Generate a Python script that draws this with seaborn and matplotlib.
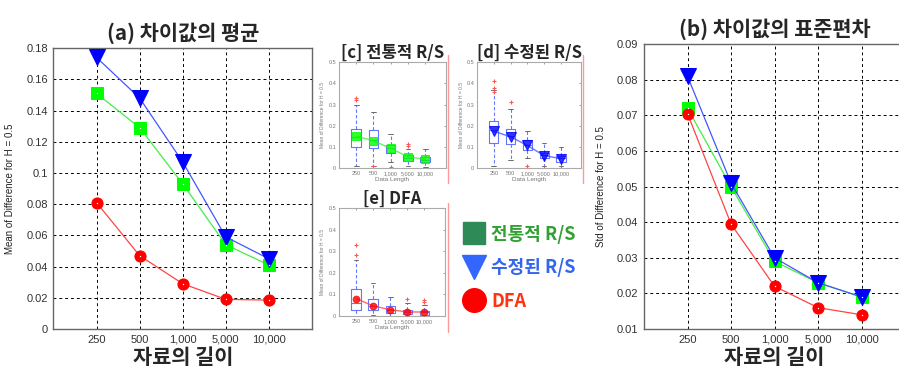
import numpy as np
import pandas as pd
import matplotlib
matplotlib.use('Agg')
import matplotlib.pyplot as plt
import seaborn as sns
from matplotlib.lines import Line2D

LENGTHS = ['250', '500', '1,000', '5,000', '10,000']
METHODS = ['전통적 R/S', '수정된 R/S', 'DFA']

# (a) mean of difference
MEAN_RS = [0.151, 0.129, 0.093, 0.054, 0.041]
MEAN_MRS = [0.174, 0.148, 0.107, 0.059, 0.045]
MEAN_DFA = [0.081, 0.047, 0.029, 0.019, 0.0185]

# (b) std of difference
STD_RS = [0.072, 0.050, 0.029, 0.023, 0.019]
STD_MRS = [0.081, 0.051, 0.030, 0.023, 0.019]
STD_DFA = [0.0705, 0.0395, 0.022, 0.016, 0.014]

# inset boxplot stats: q1, median, q3, whisker low, whisker high
BOX_RS_Q1 = [0.100, 0.094, 0.070, 0.036, 0.027]
BOX_RS_MED = [0.148, 0.133, 0.094, 0.050, 0.040]
BOX_RS_Q3 = [0.183, 0.180, 0.110, 0.062, 0.052]
BOX_RS_WLO = [0.008, 0.012, 0.027, 0.008, 0.005]
BOX_RS_WHI = [0.300, 0.265, 0.160, 0.090, 0.090]
BOX_RS_FLIERS = [[0.32, 0.33], [0.01], [0.005], [0.115, 0.105], []]

BOX_MRS_Q1 = [0.117, 0.113, 0.086, 0.047, 0.031]
BOX_MRS_MED = [0.180, 0.152, 0.110, 0.060, 0.047]
BOX_MRS_Q3 = [0.223, 0.183, 0.133, 0.073, 0.058]
BOX_MRS_WLO = [0.008, 0.040, 0.050, 0.010, 0.008]
BOX_MRS_WHI = [0.370, 0.280, 0.175, 0.117, 0.098]
BOX_MRS_FLIERS = [[0.41, 0.38, 0.36], [0.31], [0.012], [0.003], [0.003]]

BOX_DFA_Q1 = [0.028, 0.028, 0.015, 0.008, 0.006]
BOX_DFA_MED = [0.060, 0.045, 0.028, 0.018, 0.017]
BOX_DFA_Q3 = [0.124, 0.077, 0.046, 0.028, 0.025]
BOX_DFA_WLO = [0.0, 0.005, 0.0, 0.0, 0.0]
BOX_DFA_WHI = [0.260, 0.155, 0.090, 0.060, 0.050]
BOX_DFA_FLIERS = [[0.33, 0.285], [], [], [0.08], [0.075, 0.065]]

sns.set_style('white')
plt.rcParams['font.family'] = ['Liberation Sans', 'Noto Sans CJK KR', 'DejaVu Sans']
KFONT = ['Noto Sans CJK KR', 'DejaVu Sans']

LINE_COLORS = ['#44ee44', '#4455ff', '#ff4444']
MARK_COLORS = ['#00ff00', '#0000ff', '#ff0000']
MARKERS = ['s', 'v', 'o']
MSIZES = [9, 12, 8]

pos = np.arange(1, len(LENGTHS) + 1)

fig = plt.figure(figsize=(8.99, 3.72), dpi=100)


def main_panel(rect, series, ylim, yticks, ylabel, title):
    ax = fig.add_axes(rect)
    df = pd.DataFrame({'pos': np.tile(pos, 3),
                       'value': np.concatenate(series),
                       'method': np.repeat(METHODS, len(pos))})
    for i, m in enumerate(METHODS):
        sub = df[df['method'] == m]
        sns.lineplot(data=sub, x='pos', y='value', ax=ax, color=LINE_COLORS[i],
                     lw=0.9, marker=MARKERS[i], markersize=MSIZES[i],
                     markerfacecolor=MARK_COLORS[i], markeredgecolor=MARK_COLORS[i],
                     zorder=3 + (i == 1))
        if i != 1:
            ax.plot(sub['pos'], sub['value'], ls='none', marker='o', ms=1.0,
                    color='white', mew=0, zorder=5)
    ax.set_xlim(0, 6)
    ax.set_ylim(*ylim)
    ax.set_xticks(pos)
    ax.set_xticklabels(LENGTHS)
    ax.set_yticks(yticks)
    ax.set_yticklabels([f'{v:g}' for v in yticks])
    ax.grid(True, color='black', ls=(0, (3, 3)), lw=0.7)
    ax.tick_params(labelsize=8, colors='#333333', length=0, pad=4)
    for s in ax.spines.values():
        s.set_color('#666666')
        s.set_linewidth(1)
    ax.set_ylabel(ylabel, fontsize=7, color='#222222', labelpad=8)
    ax.set_xlabel('자료의 길이', family=KFONT, fontsize=15, fontweight='bold', labelpad=2)
    ax.set_title(title, family=KFONT, fontsize=15, fontweight='bold', pad=6)
    return ax


main_panel([0.0595, 0.1156, 0.2875, 0.755], [MEAN_RS, MEAN_MRS, MEAN_DFA],
           (0, 0.18), np.round(np.arange(0, 0.181, 0.02), 2),
           'Mean of Difference for H = 0.5', '(a) 차이값의 평균')
main_panel([0.7164, 0.1156, 0.2903, 0.7653], [STD_RS, STD_MRS, STD_DFA],
           (0.01, 0.09), np.round(np.arange(0.01, 0.091, 0.01), 2),
           'Std of Difference for H = 0.5', '(b) 차이값의 표준편차')


def inset(rect, q1, med, q3, wlo, whi, fliers, means, idx, title):
    ax = fig.add_axes(rect)
    stats = [dict(q1=a, med=b, q3=c, whislo=d, whishi=e, fliers=f)
             for a, b, c, d, e, f in zip(q1, med, q3, wlo, whi, fliers)]
    ax.bxp(stats, positions=pos, widths=0.55, showfliers=True,
           boxprops=dict(color='#6677ff', lw=0.8),
           whiskerprops=dict(color='#6677ff', lw=0.8, ls=(0, (3, 2))),
           capprops=dict(color='#555555', lw=0.6),
           medianprops=dict(color='#6677ff', lw=0.8),
           flierprops=dict(marker='+', markeredgecolor='#ff5555', ms=3, mew=0.8))
    sns.lineplot(x=pos, y=means, ax=ax, color=LINE_COLORS[idx], lw=1, alpha=0.8,
                 marker=MARKERS[idx], markersize=MSIZES[idx] * 0.6,
                 markerfacecolor=MARK_COLORS[idx], markeredgecolor=MARK_COLORS[idx],
                 zorder=5)
    ax.set_xlim(0, 6.2)
    ax.set_ylim(0, 0.5)
    ax.set_xticks(pos)
    ax.set_xticklabels(LENGTHS)
    ax.set_yticks(np.round(np.arange(0, 0.51, 0.1), 1))
    ax.set_yticklabels(['0', '0.1', '0.2', '0.3', '0.4', '0.5'])
    ax.tick_params(labelsize=4, colors='#777777', length=1.5, width=0.5, pad=2,
                   top=True, right=True, direction='in')
    for s in ax.spines.values():
        s.set_color('#aaaaaa')
        s.set_linewidth(0.8)
    ax.set_xlabel('Data Length', fontsize=4.5, color='#777777', labelpad=1)
    ax.set_ylabel('Mean of Difference for H = 0.5', fontsize=3.5, color='#777777', labelpad=2)
    ax.set_title(title, family=KFONT, fontsize=12, fontweight='bold', pad=3)
    return ax


inset([0.377, 0.548, 0.119, 0.285], BOX_RS_Q1, BOX_RS_MED, BOX_RS_Q3, BOX_RS_WLO,
      BOX_RS_WHI, BOX_RS_FLIERS, MEAN_RS, 0, '[c] 전통적 R/S')
inset([0.5306, 0.548, 0.1157, 0.285], BOX_MRS_Q1, BOX_MRS_MED, BOX_MRS_Q3, BOX_MRS_WLO,
      BOX_MRS_WHI, BOX_MRS_FLIERS, MEAN_MRS, 1, '[d] 수정된 R/S')
inset([0.377, 0.1505, 0.118, 0.290], BOX_DFA_Q1, BOX_DFA_MED, BOX_DFA_Q3, BOX_DFA_WLO,
      BOX_DFA_WHI, BOX_DFA_FLIERS, MEAN_DFA, 2, '[e] DFA')

# thin red separators next to the insets
for x, y0, y1 in [(448, 55, 183), (583, 55, 183), (448, 203, 332)]:
    fig.add_artist(Line2D([x / 899, x / 899], [1 - y0 / 372, 1 - y1 / 372],
                          transform=fig.transFigure, color='#ff9999', lw=1))

# legend in the middle
handles = [Line2D([], [], ls='none', marker='s', ms=16, color='#2e8b57'),
           Line2D([], [], ls='none', marker='v', ms=17, color='#3366ff'),
           Line2D([], [], ls='none', marker='o', ms=17, color='#ff0000')]
fig.legend(handles, METHODS, loc='upper left', bbox_to_anchor=(0.505, 0.42),
           frameon=False, labelcolor=['#33a033', '#3366ee', '#ff3311'],
           prop=dict(family=KFONT, size=13, weight='bold'),
           handlelength=1.2, handletextpad=0.35, labelspacing=0.8, borderpad=0)

fig.savefig('out.png', dpi=100)
